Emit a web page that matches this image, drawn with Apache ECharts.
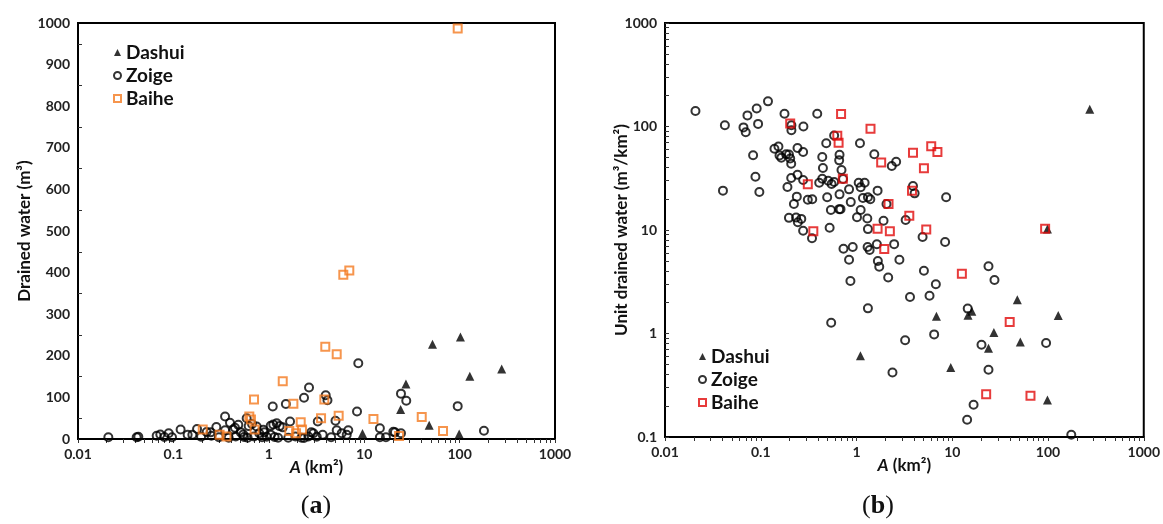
<!DOCTYPE html>
<html>
<head>
<meta charset="utf-8">
<script src="https://cdn.jsdelivr.net/npm/echarts@6/dist/echarts.min.js"></script>
<style>
html,body{margin:0;padding:0;background:#fff;}
#c{width:1163px;height:524px;}
</style>
</head>
<body>
<div id="c"></div>
<script>
// ---------- DATA (A in km², value) ----------
// Panel (a): drained water (m³)
const aDashui = [[52,228],[102,245],[128,151],[276,168],[27.4,132],[24.1,71],[48,33],[9.6,13],[99,12]];
const aZoige = [
[0.0208,4],[0.0412,4],[0.0429,5.5],[0.0668,8],[0.0729,11],[0.0803,5],[0.0893,14],[0.0967,4],
[0.119,23],[0.141,10],[0.158,10],[0.177,24],[0.195,5.5],[0.223,17],[0.246,16],[0.282,29],
[0.348,54],[0.348,21],[0.392,39],[0.425,23],[0.479,34],[0.508,16],[0.54,11],[0.586,50],
[0.667,36],[0.746,30],[0.794,14],[0.875,22],[0.951,5.5],[1.10,78],[1.047,32],[1.21,38],
[1.30,31],[1.40,28],[1.51,84],[1.67,42],[2.34,99],[2.64,124],[3.95,105],[4.12,93],
[3.26,42],[5.0,44],[8.67,182],[8.41,66],[24.3,109],[27.6,92],[95.5,79],[180,20],
[14.6,26],[14.6,4],[16.9,4],[20.2,17.5],[24.3,14],[5.15,21],[5.81,14],[6.81,21],
[6.56,10],[3.67,10],[3.18,5.5],[2.34,2.4],[2.79,16],[0.442,27],[0.615,31],[0.898,16],
[1.114,35],[2.93,14],[21,16],[0.60,3],[0.85,4],[1.15,5],[1.6,3],[1.9,6],[2.2,3],
[0.45,6],[0.30,4],[0.25,8],[0.38,3],[0.70,6],[1.25,3],[1.05,10],[0.55,5],[2.6,6],[4.5,4]
];
const aBaihe = [[95.5,987],[6.04,395],[6.98,405],[3.91,222],[5.15,204],[1.40,139],[1.81,85],[3.82,95],
[5.40,56],[3.53,50],[12.5,48],[40.1,53],[67,19],[23.2,7],[2.16,40],[1.64,19],[1.93,14],[2.23,23],
[0.70,95],[0.625,54],[0.65,47],[0.71,23],[0.203,23],[0.305,10],[0.36,6]];

// Panel (b): unit drained water (m³/km²)
const bDashui = [[273,147],[47.8,2.12],[6.84,1.47],[14.6,1.50],[16.0,1.64],[128,1.49],[27.2,1.02],
[51.4,0.83],[23.9,0.72],[9.65,0.47],[98.6,0.228],[98.6,10.2],[1.10,0.61]];
const bZoige = [
[0.0208,141],[0.0422,103],[0.066,98],[0.0697,88],[0.0726,128],[0.0907,149],[0.0938,106],[0.119,175],
[0.177,133],[0.209,103],[0.209,92],[0.279,100],[0.389,133],[0.139,61],[0.153,64],[0.157,52.5],
[0.164,50],[0.184,54],[0.197,53.6],[0.203,49],[0.208,43.7],[0.242,62],[0.277,56.7],[0.0832,52.7],
[0.088,32.7],[0.0403,24],[0.0967,23.3],[0.190,26],[0.208,31.8],[0.242,34.2],[0.277,30.4],[0.238,21],
[0.222,17.8],[0.31,19.6],[0.345,19.8],[0.197,13.1],[0.234,13.2],[0.244,11.9],[0.265,12.8],[0.277,9.84],
[0.343,8.31],[0.483,68.8],[0.439,50.7],[0.446,39.7],[0.439,31.3],[0.408,28.6],[0.494,20.7],[0.524,10.5],
[0.584,82],[0.665,53.4],[0.659,47.1],[1.087,68.8],[0.697,38],[1.534,53.9],[2.594,45.7],[2.335,41.5],
[0.506,29.9],[0.549,27.8],[0.584,29.1],[0.724,31.1],[0.836,24.7],[1.054,28.6],[1.216,28.6],[1.105,25.9],
[1.66,24],[0.665,22.1],[0.871,18.6],[1.168,20.4],[1.316,20.7],[1.394,19.8],[2.057,17.8],[0.54,15.6],
[0.659,15.9],[0.681,15.9],[1.105,15.6],[1.012,13.3],[1.297,12.9],[1.915,12.3],[3.26,12.5],[3.89,26.6],
[4.045,22.6],[8.63,20.7],[1.316,10.2],[4.9,8.56],[8.42,7.66],[0.731,6.6],[0.913,6.85],[1.306,6.85],
[1.371,6.4],[1.632,7.27],[2.473,7.3],[0.836,5.16],[1.671,5.02],[1.728,4.42],[2.806,5.16],[5.06,4.04],
[0.864,3.22],[2.142,3.48],[23.9,4.46],[27.6,3.29],[6.74,2.99],[3.62,2.25],[5.79,2.32],[1.316,1.75],
[0.544,1.27],[14.5,1.74],[6.47,0.98],[3.22,0.86],[20.2,0.78],[2.375,0.42],[23.9,0.447],[16.7,0.205],
[14.3,0.147],[95.5,0.81],[175,0.105]
];
const bBaihe = [[0.203,107],[0.69,132],[1.40,95],[0.63,81.5],[0.65,69.7],[0.72,31.3],[0.31,27.7],[0.354,9.7],
[6.03,64.4],[7.0,56.7],[3.89,55.8],[1.81,45],[5.06,39.5],[3.80,24],[2.16,17.8],[3.56,13.7],[1.66,10.3],
[2.23,9.7],[5.35,10.1],[93.3,10.3],[1.95,6.55],[12.6,3.78],[39.8,1.29],[22.6,0.259],[65.6,0.25]];

const xLabels = [0.01, 0.1, 1, 10, 100, 1000];
const yLabelsA = [0,100,200,300,400,500,600,700,800,900,1000];
const yLabelsB = [0.1, 1, 10, 100, 1000];
const seriesNames = ['Dashui','Zoige','Baihe'];

// ---------- tick helpers ----------
function logMinor(lo, hi){
  const out=[];
  for(let d=lo; d<hi*0.999; d*=10){
    for(let k=1;k<10;k++) out.push(+(d*k).toPrecision(3));
  }
  out.push(hi);
  return out;
}
const fmt = v => String(+(+v).toPrecision(6));
const FONT = 'Lato';
const labelStyle = {fontFamily:FONT, fontWeight:'bold', fontSize:14, color:'#222'};
const nameStyle = {fontFamily:FONT, fontWeight:'bold', fontSize:17, color:'#111',
  rich:{i:{fontFamily:FONT, fontStyle:'italic', fontWeight:'bold', fontSize:17, color:'#111'}}};

const ORANGE = '#F47A20', RED = '#E10A0A';

function xAxisDef(gi){
  return {
    type:'log', logBase:10, min:0.01, max:1000, gridIndex:gi,
    name:'{i|A} (km²)', nameLocation:'middle', nameGap:20, nameTextStyle:nameStyle, nameMoveOverlap:false,
    axisLine:{show:true, lineStyle:{color:'#000', width:2}},
    axisTick:{show:true, inside:false, length:4, lineStyle:{color:'#333', width:1}, customValues:logMinor(0.01,1000)},
    axisLabel:{...labelStyle, margin:8, formatter:fmt, customValues:xLabels},
    splitLine:{show:false}, minorTick:{show:false}
  };
}

function mk(name, data, gx, kind, color){
  const s = {name, type:'scatter', data, xAxisIndex:gx, yAxisIndex:gx, symbolSize:8};
  if(kind==='tri'){ s.symbol='triangle'; s.symbolSize=9; s.itemStyle={color:'#000'}; }
  else if(kind==='circ'){ s.symbol='circle'; s.itemStyle={color:'rgba(255,255,255,0)', borderColor:'#000', borderWidth:2}; }
  else { s.symbol='rect'; s.symbolSize=8; s.itemStyle={color:'rgba(255,255,255,0)', borderColor:color, borderWidth:2}; }
  s.z = kind==='tri'?3:(kind==='circ'?2:4);
  s.emphasis={disabled:true};
  return s;
}

const legendText = {fontFamily:FONT, fontWeight:'bold', fontSize:19, color:'#111', lineHeight:19};

const chart = echarts.init(document.getElementById('c'), null, {renderer:'canvas'});
chart.setOption({
  animation:false,
  backgroundColor:'#fff',
  grid:[
    {left:78, top:23, width:477, height:416, show:true, borderColor:'#000', borderWidth:2, backgroundColor:'transparent'},
    {left:665, top:23, width:482, height:414, show:true, borderColor:'#000', borderWidth:2, backgroundColor:'transparent'}
  ],
  xAxis:[xAxisDef(0), xAxisDef(1)],
  yAxis:[
    {type:'value', min:0, max:1000, interval:100, gridIndex:0,
     name:'Drained water (m³)', nameLocation:'middle', nameGap:45, nameTextStyle:nameStyle, nameMoveOverlap:false,
     axisLine:{show:true, lineStyle:{color:'#000', width:2}},
     axisTick:{show:true, inside:true, length:4, lineStyle:{color:'#333'}, customValues:[50,150,250,350,450,550,650,750,850,950]},
     axisLabel:{...labelStyle, margin:8, formatter:fmt, customValues:yLabelsA},
     splitLine:{show:false}},
    {type:'log', logBase:10, min:0.1, max:1000, gridIndex:1,
     name:'Unit drained water (m³/km²)', nameLocation:'middle', nameGap:35, nameTextStyle:nameStyle, nameMoveOverlap:false,
     axisLine:{show:true, lineStyle:{color:'#000', width:2}},
     axisTick:{show:true, inside:true, length:4, lineStyle:{color:'#333'}, customValues:logMinor(0.1,1000)},
     axisLabel:{...labelStyle, margin:8, formatter:fmt, customValues:yLabelsB},
     splitLine:{show:false}}
  ],
  legend:[
    {orient:'vertical', left:108, top:38, itemWidth:7, itemHeight:7, itemGap:4,
     data:seriesNames, textStyle:legendText, selectedMode:false, formatter: n=>n},
    {orient:'vertical', left:693, top:342, itemWidth:7, itemHeight:7, itemGap:4,
     data:seriesNames.map(n=>n+' b'), textStyle:legendText, selectedMode:false, formatter: n=>n.split(' ')[0]}
  ],
  graphic:[
    {type:'text', x:316, y:506, style:{text:'{p|(}{b|a}{p|)}', align:'center', verticalAlign:'middle',
      rich:{p:{fontFamily:'Liberation Serif', fontSize:26, fill:'#111'}, b:{fontFamily:'Liberation Serif', fontSize:26, fontWeight:'bold', fill:'#111'}}}},
    {type:'text', x:878, y:506, style:{text:'{p|(}{b|b}{p|)}', align:'center', verticalAlign:'middle',
      rich:{p:{fontFamily:'Liberation Serif', fontSize:26, fill:'#111'}, b:{fontFamily:'Liberation Serif', fontSize:26, fontWeight:'bold', fill:'#111'}}}}
  ],
  series:[
    mk('Dashui', aDashui, 0, 'tri'),
    mk('Zoige', aZoige, 0, 'circ'),
    mk('Baihe', aBaihe, 0, 'sq', ORANGE),
    mk('Dashui b', bDashui, 1, 'tri'),
    mk('Zoige b', bZoige, 1, 'circ'),
    mk('Baihe b', bBaihe, 1, 'sq', RED)
  ]
});
</script>
</body>
</html>
